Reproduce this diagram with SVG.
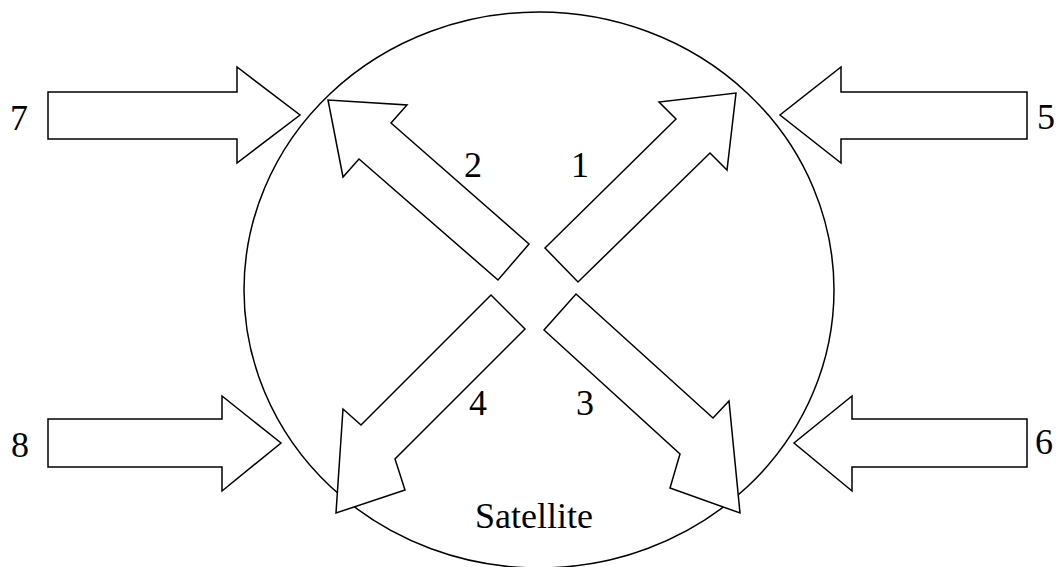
<svg xmlns="http://www.w3.org/2000/svg" width="1056" height="567" viewBox="0 0 1056 567">
<style>
.sh{fill:#fff;stroke:#000;stroke-width:1.5;stroke-linejoin:miter}
.t{font-family:'Liberation Serif','Times New Roman','DejaVu Serif',serif;font-size:36px;fill:#000;text-anchor:middle}
</style>
<rect width="1056" height="567" fill="#fff"/>
<g id="satellite">
<ellipse class="sh" cx="539" cy="290" rx="295" ry="278"/>
<text class="t" x="534" y="528" font-family="Liberation Serif, serif">Satellite</text>
</g>
<g id="connectors">
<g id="arrow1"><polygon class="sh" points="545,248 676,119 659,102 736,93 727,170 710,153 578,282"/><text class="t" x="580" y="177" font-family="Liberation Serif, serif">1</text></g>
<g id="arrow2"><polygon class="sh" points="529,244 391,123 407,105 328,100 343,177 359,159 498,280"/><text class="t" x="473" y="177" font-family="Liberation Serif, serif">2</text></g>
<g id="arrow3"><polygon class="sh" points="576,294 713,418 729,401 740,513 670,488 680,454 544,330"/><text class="t" x="585" y="415" font-family="Liberation Serif, serif">3</text></g>
<g id="arrow4"><polygon class="sh" points="491,295 361,425 343,409 336,513 405,490 395,459 525,329"/><text class="t" x="478" y="415" font-family="Liberation Serif, serif">4</text></g>
<g id="arrow5"><polygon class="sh" points="1027,92 841,92 841,67 780,115 841,163 841,139 1027,139"/><text class="t" x="1046" y="129" font-family="Liberation Serif, serif">5</text></g>
<g id="arrow6"><polygon class="sh" points="1027,419 852,419 852,396 794,443 852,491 852,467 1027,467"/><text class="t" x="1044" y="454" font-family="Liberation Serif, serif">6</text></g>
<g id="arrow7"><polygon class="sh" points="48,92 237,92 237,67 300,115 237,163 237,139 48,139"/><text class="t" x="19" y="130" font-family="Liberation Serif, serif">7</text></g>
<g id="arrow8"><polygon class="sh" points="48,419 222,419 222,396 281,443 222,491 222,467 48,467"/><text class="t" x="20" y="457" font-family="Liberation Serif, serif">8</text></g>
</g>
</svg>
